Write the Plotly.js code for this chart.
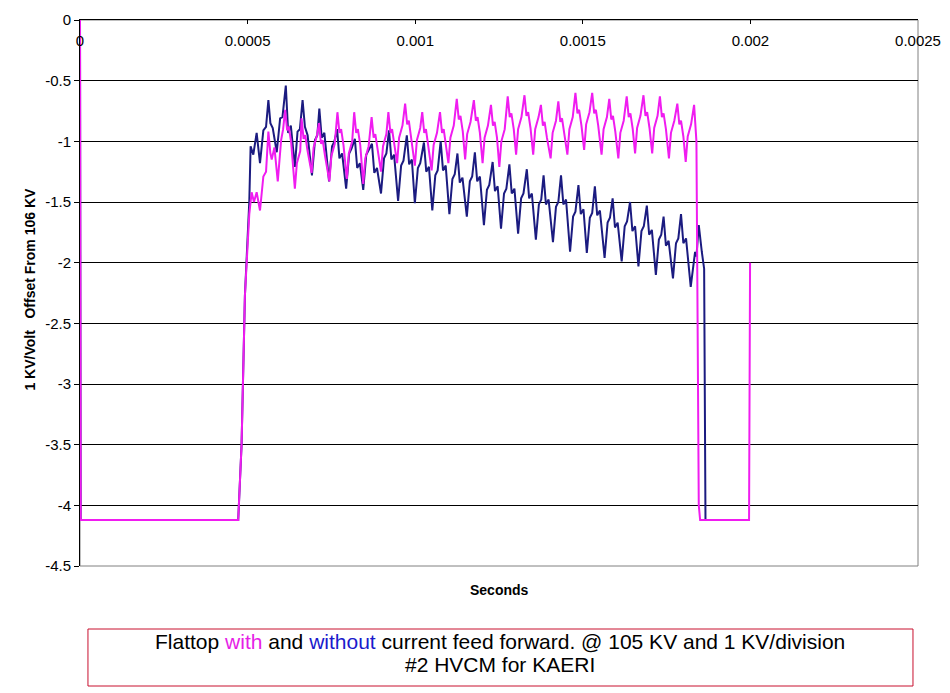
<!DOCTYPE html>
<html>
<head>
<meta charset="utf-8">
<script src="https://cdn.plot.ly/plotly-3.0.1.min.js"></script>
<style>html,body{margin:0;padding:0;background:#fff;}#chart{width:950px;height:693px;}</style>
</head>
<body>
<div id="chart"></div>
<script>
// Time in microseconds, values in KV offset
const timeWithUs = [0, 2, 472, 482, 492, 505, 512, 519, 527, 537, 547, 555, 562, 568, 572, 580, 590, 600, 606,
 612, 618, 623, 630, 641, 647, 657,
 661, 667, 672, 679, 691, 697, 707,
 713, 719, 724, 731, 744, 750, 760,
 768, 774, 779, 786, 796, 802, 812,
 818, 824, 829, 836, 845, 851, 861,
 870, 876, 881, 888, 898, 904, 914,
 920, 926, 931, 938, 946, 952, 962,
 970, 976, 981, 988, 999, 1005, 1015,
 1021, 1027, 1032, 1039, 1049, 1055, 1065,
 1074, 1080, 1085, 1092, 1099, 1105, 1115,
 1124, 1130, 1135, 1142, 1149, 1155, 1165,
 1175, 1181, 1186, 1193, 1201, 1207, 1217,
 1226, 1232, 1237, 1244, 1251, 1257, 1267,
 1276, 1282, 1287, 1294, 1301, 1307, 1317,
 1326, 1332, 1337, 1344, 1352, 1358, 1368,
 1375, 1381, 1386, 1393, 1404, 1410, 1420,
 1427, 1433, 1438, 1445, 1454, 1460, 1470,
 1478, 1484, 1489, 1496, 1504, 1510, 1520,
 1528, 1534, 1539, 1546, 1556, 1562, 1572,
 1579, 1585, 1590, 1597, 1606, 1612, 1622,
 1631, 1637, 1642, 1649, 1656, 1662, 1672,
 1681, 1687, 1692, 1699, 1707, 1713, 1723,
 1730, 1736, 1741, 1748, 1757, 1763, 1773,
 1782, 1788, 1793, 1800, 1807, 1813, 1823,
 1832, 1839, 1846, 1850, 1996, 1999];
const valuesWith = [0, -4.12, -4.12, -3.5, -2.27, -1.6, -1.42, -1.50, -1.42, -1.57, -1.29, -1.25, -0.92, -1.10, -1.15, -1.05, -1.33, -0.99, -0.90,
 -0.74, -0.91, -0.88, -1.01, -1.39, -1.18, -1.08,
 -0.81, -0.98, -0.95, -1.08, -1.26, -1.05, -0.95,
 -0.85, -1.02, -0.99, -1.12, -1.33, -1.12, -1.02,
 -0.76, -0.93, -0.90, -1.03, -1.31, -1.10, -1.00,
 -0.76, -0.93, -0.90, -1.03, -1.35, -1.14, -1.04,
 -0.80, -0.97, -0.94, -1.07, -1.25, -1.04, -0.94,
 -0.76, -0.93, -0.90, -1.03, -1.18, -0.97, -0.87,
 -0.69, -0.86, -0.83, -0.96, -1.20, -0.99, -0.89,
 -0.76, -0.93, -0.90, -1.03, -1.24, -1.03, -0.93,
 -0.76, -0.93, -0.90, -1.03, -1.18, -0.97, -0.87,
 -0.65, -0.82, -0.79, -0.92, -1.15, -0.94, -0.84,
 -0.66, -0.83, -0.80, -0.93, -1.18, -0.97, -0.87,
 -0.70, -0.87, -0.84, -0.97, -1.21, -1.00, -0.90,
 -0.63, -0.80, -0.77, -0.90, -1.11, -0.90, -0.80,
 -0.62, -0.79, -0.76, -0.89, -1.11, -0.90, -0.80,
 -0.70, -0.87, -0.84, -0.97, -1.14, -0.93, -0.83,
 -0.67, -0.84, -0.81, -0.94, -1.11, -0.90, -0.80,
 -0.60, -0.77, -0.74, -0.87, -1.07, -0.86, -0.76,
 -0.60, -0.77, -0.74, -0.87, -1.11, -0.90, -0.80,
 -0.65, -0.82, -0.79, -0.92, -1.14, -0.93, -0.83,
 -0.63, -0.80, -0.77, -0.90, -1.10, -0.89, -0.79,
 -0.62, -0.79, -0.76, -0.89, -1.10, -0.89, -0.79,
 -0.63, -0.80, -0.77, -0.90, -1.14, -0.93, -0.83,
 -0.69, -0.86, -0.83, -0.96, -1.17, -0.96, -0.86,
 -0.70, -1.00, -4.00, -4.12, -4.12, -2.00];

const timeWithoutUs = [0, 2, 472, 482, 492, 505, 509, 517, 527, 537, 547, 555, 562, 568, 575, 587, 597, 604,
 614, 621, 629, 641, 649, 656,
 664, 671, 679, 692, 701, 708,
 714, 721, 729, 743, 752, 759,
 767, 774, 782, 794, 803, 810,
 820, 827, 835, 845, 854, 861,
 871, 878, 886, 898, 907, 914,
 922, 929, 937, 949, 958, 965,
 975, 982, 990, 999, 1008, 1015,
 1026, 1033, 1041, 1051, 1060, 1067,
 1076, 1083, 1091, 1102, 1111, 1118,
 1126, 1133, 1141, 1154, 1163, 1170,
 1178, 1185, 1193, 1205, 1214, 1221,
 1231, 1238, 1246, 1256, 1265, 1272,
 1281, 1288, 1296, 1307, 1316, 1323,
 1333, 1340, 1348, 1360, 1369, 1376,
 1383, 1390, 1398, 1411, 1420, 1427,
 1435, 1442, 1450, 1462, 1471, 1478,
 1487, 1494, 1502, 1512, 1521, 1528,
 1536, 1543, 1551, 1565, 1574, 1581,
 1589, 1596, 1604, 1616, 1625, 1632,
 1641, 1648, 1656, 1666, 1675, 1682,
 1691, 1698, 1706, 1718, 1727, 1734,
 1741, 1748, 1756, 1769, 1778, 1785,
 1793, 1800, 1808, 1822, 1835, 1839,
 1846, 1855, 1860, 1862, 1866, 1878];
const valuesWithout = [0, -4.12, -4.12, -3.5, -2.27, -1.5, -1.04, -1.11, -0.93, -1.18, -0.91, -0.88, -0.66, -0.85, -0.89, -1.09, -0.81, -0.80,
 -0.54, -0.93, -0.87, -1.21, -0.92, -0.90,
 -0.66, -0.88, -0.95, -1.28, -0.99, -0.95,
 -0.73, -0.97, -0.93, -1.33, -1.04, -1.00,
 -0.90, -1.14, -1.10, -1.39, -1.10, -1.06,
 -0.98, -1.22, -1.18, -1.40, -1.11, -1.07,
 -1.02, -1.26, -1.22, -1.43, -1.14, -1.10,
 -0.91, -1.15, -1.11, -1.49, -1.20, -1.16,
 -0.95, -1.19, -1.15, -1.51, -1.22, -1.18,
 -1.01, -1.25, -1.21, -1.57, -1.28, -1.24,
 -1.00, -1.24, -1.20, -1.60, -1.31, -1.27,
 -1.10, -1.34, -1.30, -1.62, -1.33, -1.29,
 -1.09, -1.33, -1.29, -1.69, -1.40, -1.36,
 -1.17, -1.41, -1.37, -1.72, -1.43, -1.39,
 -1.19, -1.43, -1.39, -1.76, -1.47, -1.43,
 -1.23, -1.47, -1.43, -1.81, -1.52, -1.48,
 -1.28, -1.52, -1.48, -1.83, -1.54, -1.50,
 -1.28, -1.52, -1.48, -1.91, -1.62, -1.58,
 -1.36, -1.60, -1.56, -1.92, -1.63, -1.59,
 -1.37, -1.61, -1.57, -1.96, -1.67, -1.63,
 -1.47, -1.71, -1.67, -1.99, -1.70, -1.66,
 -1.50, -1.74, -1.70, -2.03, -1.74, -1.70,
 -1.53, -1.77, -1.73, -2.10, -1.81, -1.77,
 -1.62, -1.86, -1.82, -2.13, -1.84, -1.80,
 -1.60, -1.84, -1.80, -2.20, -1.91, -1.95,
 -1.69, -1.91, -2.00, -2.05, -4.12, -4.12];

const xTickVals = [0, 0.0005, 0.001, 0.0015, 0.002, 0.0025];
const xTickText = ['0', '0.0005', '0.001', '0.0015', '0.002', '0.0025'];
const yTickVals = [0, -0.5, -1, -1.5, -2, -2.5, -3, -3.5, -4, -4.5];
const yTickText = ['0', '-0.5', '-1', '-1.5', '-2', '-2.5', '-3', '-3.5', '-4', '-4.5'];

const FONT = 'Liberation Sans, Arial, sans-serif';

const traces = [
  {x: timeWithoutUs.map(t => t / 1e6), y: valuesWithout, type: 'scatter', mode: 'lines',
   line: {color: '#1b1b80', width: 2}, name: 'without', hoverinfo: 'skip'},
  {x: timeWithUs.map(t => t / 1e6), y: valuesWith, type: 'scatter', mode: 'lines',
   line: {color: '#f01cf0', width: 2}, name: 'with', hoverinfo: 'skip'}
];

const layout = {
  width: 950, height: 693,
  margin: {l: 80, r: 32, t: 20, b: 127},
  paper_bgcolor: '#ffffff', plot_bgcolor: '#ffffff',
  showlegend: false,
  font: {family: FONT, color: '#000', size: 15},
  xaxis: {
    range: [0, 0.0025], side: 'top', tickvals: xTickVals, ticktext: xTickText,
    ticks: 'inside', ticklen: 4, tickcolor: '#000', ticklabelposition: 'inside',
    ticklabeloverflow: 'allow', ticklabelstandoff: 11,
    showline: true, linecolor: '#000', linewidth: 1, showgrid: false, zeroline: false,
    tickfont: {family: FONT, size: 15, color: '#000'}, fixedrange: true
  },
  yaxis: {
    range: [-4.5, 0], tickvals: yTickVals, ticktext: yTickText,
    ticks: 'outside', ticklen: 5, tickcolor: '#000',
    showline: true, linecolor: '#000', linewidth: 1,
    showgrid: true, gridcolor: '#000', gridwidth: 1, zeroline: false,
    tickfont: {family: FONT, size: 15, color: '#000'}, fixedrange: true
  },
  shapes: [
    {type: 'rect', xref: 'paper', yref: 'paper', x0: 0, x1: 1, y0: 0, y1: 1,
     line: {color: '#808080', width: 1}, layer: 'below'},
    {type: 'rect', xref: 'paper', yref: 'paper', x0: 0.0095, x1: 0.994, y0: -0.2198, y1: -0.1154,
     line: {color: '#c8102e', width: 1}}
  ],
  annotations: [
    {text: '<b>Seconds</b>', xref: 'paper', yref: 'paper', x: 0.5, y: -0.044,
     xanchor: 'center', yanchor: 'middle',
     showarrow: false, font: {family: FONT, size: 14, color: '#000'}},
    {text: '<b>1 KV/Volt   Offset From 106 KV</b>', xref: 'paper', yref: 'paper',
     x: -0.0597, y: 0.508, xanchor: 'center', yanchor: 'middle', textangle: -90, showarrow: false,
     font: {family: FONT, size: 14, color: '#000'}},
    {text: 'Flattop <span style="color:#e61ee6">with</span> and <span style="color:#1a1acc">without</span> current feed forward. @ 105 KV and 1 KV/division',
     xref: 'paper', yref: 'paper', x: 0.501, y: -0.1374, xanchor: 'center', yanchor: 'middle', showarrow: false,
     font: {family: FONT, size: 21, color: '#000'}},
    {text: '#2 HVCM for KAERI', xref: 'paper', yref: 'paper', x: 0.501, y: -0.1813,
     xanchor: 'center', yanchor: 'middle', showarrow: false,
     font: {family: FONT, size: 21, color: '#000'}}
  ]
};

Plotly.newPlot('chart', traces, layout, {staticPlot: true, displayModeBar: false});
</script>
</body>
</html>
